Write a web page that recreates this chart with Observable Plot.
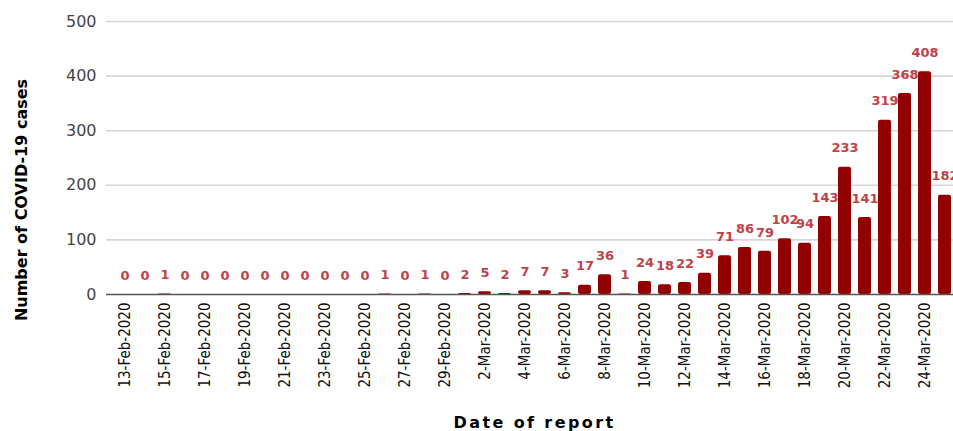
<!DOCTYPE html>
<html>
<head>
<meta charset="utf-8">
<script src="https://cdn.jsdelivr.net/npm/d3@7"></script>
<script src="https://cdn.jsdelivr.net/npm/@observablehq/plot@0.6"></script>
<style>
  html, body { margin: 0; padding: 0; background: #fff; overflow: hidden; }
  #chart svg { max-width: none !important; display: block; }
</style>
</head>
<body>
<div id="chart"></div>
<script>
const dates = [
  "13-Feb-2020","14-Feb-2020","15-Feb-2020","16-Feb-2020","17-Feb-2020","18-Feb-2020","19-Feb-2020",
  "20-Feb-2020","21-Feb-2020","22-Feb-2020","23-Feb-2020","24-Feb-2020","25-Feb-2020","26-Feb-2020",
  "27-Feb-2020","28-Feb-2020","29-Feb-2020","1-Mar-2020","2-Mar-2020","3-Mar-2020","4-Mar-2020",
  "5-Mar-2020","6-Mar-2020","7-Mar-2020","8-Mar-2020","9-Mar-2020","10-Mar-2020","11-Mar-2020",
  "12-Mar-2020","13-Mar-2020","14-Mar-2020","15-Mar-2020","16-Mar-2020","17-Mar-2020","18-Mar-2020",
  "19-Mar-2020","20-Mar-2020","21-Mar-2020","22-Mar-2020","23-Mar-2020","24-Mar-2020","25-Mar-2020"
];
const cases = [
  0,0,1,0,0,0,0,0,0,0,0,0,0,1,0,1,0,
  2,5,2,7,7,3,17,36,1,24,18,22,39,71,86,79,102,94,143,233,141,319,368,408,182
];
const xTickLabels = [
  "13-Feb-2020","15-Feb-2020","17-Feb-2020","19-Feb-2020","21-Feb-2020","23-Feb-2020","25-Feb-2020",
  "27-Feb-2020","29-Feb-2020","2-Mar-2020","4-Mar-2020","6-Mar-2020","8-Mar-2020","10-Mar-2020",
  "12-Mar-2020","14-Mar-2020","16-Mar-2020","18-Mar-2020","20-Mar-2020","22-Mar-2020","24-Mar-2020"
];
const yTicks = [0, 100, 200, 300, 400, 500];
const yTitle = "Number of COVID-19 cases";
const xTitle = "Date of report";

const data = dates.map((d, i) => ({date: d, cases: cases[i]}));

const chart = Plot.plot({
  width: 965,
  height: 431,
  marginLeft: 106,
  marginRight: 3,
  marginTop: 21,
  marginBottom: 137,
  style: "max-width:none;background:#fff;",
  x: {domain: dates, padding: 0.35, label: null},
  y: {domain: [0, 500], label: null},
  marks: [
    Plot.gridY(yTicks.filter(t => t > 0), {stroke: "#d6d6d6", strokeOpacity: 1, strokeWidth: 1.6}),
    Plot.barY(data, {x: "date", y: "cases", fill: "#930000", rx: 2}),
    Plot.ruleY([0], {stroke: "#555", strokeWidth: 1.6}),
    Plot.text(data, {
      x: "date", y: "cases", text: d => String(d.cases), dy: -19,
      fill: "#c0424b", fontSize: 13, fontWeight: 600, fontFamily: "DejaVu Sans, sans-serif"
    }),
    Plot.axisY({
      ticks: yTicks, tickSize: 0, tickPadding: 10, label: null,
      fontSize: 16, fill: "#444", fontFamily: "DejaVu Sans, sans-serif"
    }),
    Plot.axisX({
      ticks: xTickLabels, tickSize: 0, tickRotate: -90, tickPadding: 8, label: null,
      fontSize: 15, fill: "#111",
      fontFamily: "'Liberation Sans Narrow', 'Arial Narrow', 'DejaVu Sans Condensed', 'Liberation Sans', sans-serif"
    }),
    Plot.text([yTitle], {
      frameAnchor: "left", textAnchor: "middle", lineAnchor: "middle", dx: -85, dy: 42, rotate: -90, text: d => d,
      fontSize: 16, fontWeight: "bold", fill: "#000", fontFamily: "DejaVu Sans, sans-serif"
    }),
    Plot.text([xTitle], {
      frameAnchor: "bottom", textAnchor: "middle", lineAnchor: "middle", dy: 128, text: d => d,
      fontSize: 16, fontWeight: "bold", fill: "#000", fontFamily: "DejaVu Sans, sans-serif"
    })
  ]
});
d3.select(chart).selectAll("text")
  .filter(function () { return this.textContent === xTitle; })
  .style("letter-spacing", "2.4px");
document.getElementById("chart").appendChild(chart);
</script>
</body>
</html>
